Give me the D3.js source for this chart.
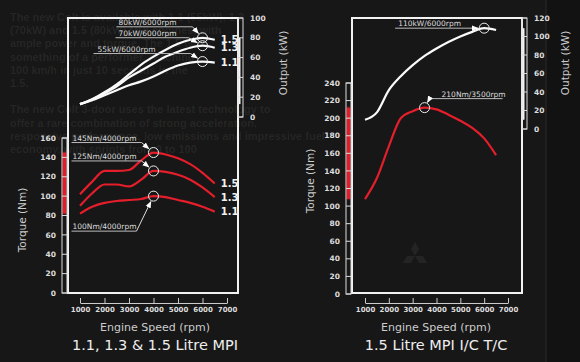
<!DOCTYPE html>
<html>
<head>
<meta charset="utf-8">
<script src="https://cdn.jsdelivr.net/npm/d3@7"></script>
<style>
  html, body { margin: 0; padding: 0; background: #161616; }
  svg { display: block; }
  text { font-family: "DejaVu Sans", sans-serif; }
</style>
</head>
<body>
<svg id="chart" width="580" height="362"></svg>
<script>
// engine speed grid shared by every curve
const rpm = [1000, 1500, 2000, 2500, 3000, 3500, 4000, 4500, 5000, 5500, 6000, 6500];
const rpmTicks = [1000, 2000, 3000, 4000, 5000, 6000, 7000];

// 1.1 / 1.3 / 1.5 MPI
const engines = ["1.5", "1.3", "1.1"];
const power15 = [13, 18, 25, 33, 43, 53, 61, 68, 74, 78, 80, 78];
const power13 = [13, 18, 24, 31, 40, 47, 54, 61, 66, 70, 72, 70];
const power11 = [13, 17, 22, 27, 32, 36, 41, 47, 52, 55, 56, 55];
const torque15 = [102, 115, 126, 126, 127, 137, 145, 143, 139, 133, 124, 113];
const torque13 = [90, 103, 112, 112, 110, 117, 126, 125, 122, 117, 109, 99];
const torque11 = [82, 89, 93, 95, 96, 97, 100, 99, 96, 93, 89, 84];
const mpiPowerNotes = ["80kW/6000rpm", "70kW/6000rpm", "55kW/6000rpm"];
const mpiTorqueNotes = ["145Nm/4000rpm", "125Nm/4000rpm", "100Nm/4000rpm"];
const mpiTorqueTicks = [0, 20, 40, 60, 80, 100, 120, 140, 160];
const mpiPowerTicks = [0, 20, 40, 60, 80, 100];

// 1.5 MPI I/C T/C
const tcPower = [10, 18, 42, 57, 69, 79, 87, 94, 100, 105, 109, 107];
const tcTorque = [108, 132, 168, 200, 208, 212, 210, 204, 197, 189, 177, 158];
const tcPowerNote = "110kW/6000rpm";
const tcTorqueNote = "210Nm/3500rpm";
const tcTorqueTicks = [0, 20, 40, 60, 80, 100, 120, 140, 160, 180, 200, 220, 240];
const tcPowerTicks = [0, 20, 40, 60, 80, 100, 120];

// faint brochure copy behind the charts
const ghostLines = [
  "The new Colt is available with 1.1 (55kW), 1.3",
  "(70kW) and 1.5 (80kW) MPI engines, with",
  "ample power and torque. The 1.5 is",
  "something of a performer, reaching",
  "100 km/h in just 10 seconds in the",
  "1.5.",
  "",
  "The new Colt 3-door uses the latest technology to",
  "offer a rare combination of strong acceleration,",
  "responsive performance, low emissions and impressive fuel",
  "economy, with sprints from 0 to 100"
];

const svg = d3.select("#chart");
svg.append("rect").attr("width", 580).attr("height", 362).attr("fill", "#171717");
svg.append("rect").attr("x", 547).attr("width", 33).attr("height", 362).attr("fill", "#121212");
svg.append("line").attr("x1", 546).attr("x2", 546).attr("y1", 0).attr("y2", 362)
  .attr("stroke", "#1f1f1f").attr("stroke-width", 2);

const defs = svg.append("defs");
defs.append("marker")
  .attr("id", "arrow")
  .attr("viewBox", "0 0 10 10")
  .attr("refX", 9).attr("refY", 5)
  .attr("markerWidth", 7).attr("markerHeight", 7)
  .attr("markerUnits", "userSpaceOnUse")
  .attr("orient", "auto")
  .append("path").attr("d", "M0,1L10,5L0,9Z").attr("fill", "#fff");
const glow = defs.append("filter").attr("id", "glow").attr("x", "-100%").attr("width", "300%");
glow.append("feGaussianBlur").attr("stdDeviation", 1.2).attr("result", "b");
const gm = glow.append("feMerge");
gm.append("feMergeNode").attr("in", "b");
gm.append("feMergeNode").attr("in", "SourceGraphic");

// ghost text
svg.append("g")
  .selectAll("text")
  .data(ghostLines)
  .join("text")
  .attr("x", 10)
  .attr("y", (d, i) => 21 + i * 13.2)
  .attr("fill", "#fff")
  .attr("fill-opacity", 0.07)
  .style("font-family", "'Liberation Sans', sans-serif")
  .style("font-weight", "bold")
  .style("font-size", "11px")
  .text(d => d);

// faint three-diamond logo
const logo = svg.append("g").attr("transform", "translate(415,256)").attr("fill", "#fff").attr("fill-opacity", 0.06);
[0, 120, 240].forEach(a => {
  logo.append("path").attr("d", "M0,0L4,-7L0,-14L-4,-7Z").attr("transform", `rotate(${a})`);
});

const red = "#e41e2b";
const lineGen = (x, y) => d3.line().x((d, i) => x(rpm[i])).y(d => y(d)).curve(d3.curveMonotoneX);

function drawNote(g, p, text, lay) {
  const uy = p.y + lay.uy, xa = p.x + lay.ux0, xb = p.x + lay.ux1;
  const r = 5;
  g.append("line").attr("x1", xa).attr("x2", xb).attr("y1", uy).attr("y2", uy)
    .attr("stroke", "#bbb").attr("stroke-width", 1);
  g.append("text").attr("x", Math.min(xa, xb) + lay.tx).attr("y", uy - 2)
    .attr("fill", "#ddd").style("font-size", "7.5px").text(text);
  const sx = Math.abs(xa - p.x) < Math.abs(xb - p.x) ? xa : xb;
  const dx = p.x - sx, dy = p.y - uy, len = Math.hypot(dx, dy);
  g.append("line").attr("x1", sx).attr("y1", uy)
    .attr("x2", p.x - dx / len * (r + 1)).attr("y2", p.y - dy / len * (r + 1))
    .attr("stroke", "#ddd").attr("stroke-width", 1).attr("marker-end", "url(#arrow)");
  g.append("circle").attr("cx", p.x).attr("cy", p.y).attr("r", r)
    .attr("fill", "none").attr("stroke", "#eee").attr("stroke-width", 1);
}

function drawPanel(cfg) {
  const g = svg.append("g");
  const [bx0, by0, bx1, by1] = cfg.box;
  const x = d3.scaleLinear().domain([1000, 7000]).range(cfg.xRange);
  const yT = d3.scaleLinear().domain([0, d3.max(cfg.torqueTicks)]).range(cfg.torqueRange);
  const yP = d3.scaleLinear().domain([0, d3.max(cfg.powerTicks)]).range(cfg.powerRange);

  // plot frame
  g.append("rect").attr("x", bx0).attr("y", by0).attr("width", bx1 - bx0).attr("height", by1 - by0)
    .attr("fill", "none").attr("stroke", "#f2f2f2").attr("stroke-width", 2);

  // torque scale bar
  const tb = bx0 - 6;
  const tExt = d3.extent(cfg.torque.flat());
  g.append("rect").attr("x", tb + 1).attr("width", 3)
    .attr("y", yT(tExt[1])).attr("height", yT(tExt[0]) - yT(tExt[1]))
    .attr("fill", red).attr("filter", "url(#glow)");
  g.append("rect").attr("x", tb).attr("width", 5)
    .attr("y", yT(d3.max(cfg.torqueTicks))).attr("height", yT(0) - yT(d3.max(cfg.torqueTicks)))
    .attr("fill", "none").attr("stroke", "#ddd").attr("stroke-width", 1);
  g.selectAll(null).data(cfg.torqueTicks).join("line")
    .attr("x1", tb).attr("x2", tb + 5).attr("y1", d => yT(d)).attr("y2", d => yT(d))
    .attr("stroke", "#ddd");
  g.selectAll(null).data(cfg.torqueTicks).join("text")
    .attr("x", tb - 6).attr("y", d => yT(d)).attr("dy", "0.35em")
    .attr("text-anchor", "end").attr("fill", "#ddd")
    .style("font-size", "7.5px").style("font-weight", "bold").text(d => d);
  g.append("text")
    .attr("transform", `translate(${cfg.torqueLabel[0]},${cfg.torqueLabel[1]}) rotate(-90)`)
    .attr("text-anchor", "middle").attr("dy", "0.35em").attr("fill", "#ccc")
    .style("font-size", "10.5px").text("Torque (Nm)");

  // output scale bar
  const pb = bx1;
  const pExt = d3.extent(cfg.power.flat());
  g.append("rect").attr("x", pb + 0.5).attr("width", 2)
    .attr("y", yP(pExt[1])).attr("height", yP(pExt[0]) - yP(pExt[1]))
    .attr("fill", "#f4f4f4");
  g.append("rect").attr("x", pb).attr("width", 5)
    .attr("y", yP(d3.max(cfg.powerTicks))).attr("height", yP(0) - yP(d3.max(cfg.powerTicks)))
    .attr("fill", "none").attr("stroke", "#ddd").attr("stroke-width", 1);
  g.selectAll(null).data(cfg.powerTicks).join("line")
    .attr("x1", pb).attr("x2", pb + 5).attr("y1", d => yP(d)).attr("y2", d => yP(d))
    .attr("stroke", "#ddd");
  g.selectAll(null).data(cfg.powerTicks).join("text")
    .attr("x", pb + 12).attr("y", d => yP(d)).attr("dy", "0.35em")
    .attr("fill", "#ddd").style("font-size", "7.5px").style("font-weight", "bold").text(d => d);
  g.append("text")
    .attr("transform", `translate(${cfg.powerLabel[0]},${cfg.powerLabel[1]}) rotate(-90)`)
    .attr("text-anchor", "middle").attr("dy", "0.35em").attr("fill", "#ccc")
    .style("font-size", "10.5px").text("Output (kW)");

  // engine speed axis
  const ax = g.append("g").attr("transform", `translate(0,${cfg.axisY})`)
    .call(d3.axisBottom(x).tickValues(rpmTicks).tickFormat(d3.format("d"))
      .tickSizeInner(-5).tickSizeOuter(0).tickPadding(4));
  ax.attr("font-family", null).attr("font-size", null);
  ax.selectAll("path, line").attr("stroke", "#ccc");
  ax.selectAll("text").attr("fill", "#ddd").style("font-size", "7px").style("font-weight", "bold");
  g.append("text").attr("x", cfg.titleX).attr("y", cfg.axisY + 28)
    .attr("text-anchor", "middle").attr("fill", "#ccc").style("font-size", "11px")
    .text("Engine Speed (rpm)");
  g.append("text").attr("x", cfg.titleX).attr("y", cfg.axisY + 47)
    .attr("text-anchor", "middle").attr("fill", "#eee").style("font-size", "14.5px")
    .text(cfg.title);

  // curves
  cfg.power.forEach(s => {
    g.append("path").datum(s).attr("d", lineGen(x, yP))
      .attr("fill", "none").attr("stroke", "#fafafa").attr("stroke-width", 2.2);
  });
  cfg.torque.forEach(s => {
    g.append("path").datum(s).attr("d", lineGen(x, yT))
      .attr("fill", "none").attr("stroke", red).attr("stroke-width", 2.2);
  });

  // end labels
  if (cfg.endLabels) {
    const last = rpm.length - 1;
    [[cfg.power, yP], [cfg.torque, yT]].forEach(([series, y]) => {
      series.forEach((s, i) => {
        g.append("text").attr("x", x(rpm[last]) + 6).attr("y", y(s[last])).attr("dy", "0.35em")
          .attr("fill", "#f2f2f2").style("font-size", "10px").style("font-weight", "bold")
          .text(cfg.endLabels[i]);
      });
    });
  }

  // peak call-outs
  cfg.notes.forEach(n => {
    const y = n.kind === "power" ? yP : yT;
    const idx = rpm.indexOf(n.rpm);
    drawNote(g, { x: x(n.rpm), y: y(n.series[idx]) }, n.text, n.lay);
  });
}

drawPanel({
  box: [68, 18, 238, 293],
  xRange: [80, 227],
  torqueRange: [293, 138],
  powerRange: [117, 18],
  torqueTicks: mpiTorqueTicks,
  powerTicks: mpiPowerTicks,
  power: [power15, power13, power11],
  torque: [torque15, torque13, torque11],
  endLabels: engines,
  torqueLabel: [22, 220],
  powerLabel: [283, 63],
  axisY: 303,
  titleX: 155,
  title: "1.1, 1.3 & 1.5 Litre MPI",
  notes: [
    { kind: "power", rpm: 6000, series: power15, text: mpiPowerNotes[0], lay: { ux0: -86, ux1: -10, uy: -11, tx: 2 } },
    { kind: "power", rpm: 6000, series: power13, text: mpiPowerNotes[1], lay: { ux0: -87, ux1: -14, uy: -8, tx: 3 } },
    { kind: "power", rpm: 6000, series: power11, text: mpiPowerNotes[2], lay: { ux0: -109, ux1: -12, uy: -8, tx: 4 } },
    { kind: "torque", rpm: 4000, series: torque15, text: mpiTorqueNotes[0], lay: { ux0: -82, ux1: -12, uy: -10, tx: 1 } },
    { kind: "torque", rpm: 4000, series: torque13, text: mpiTorqueNotes[1], lay: { ux0: -82, ux1: -12, uy: -10, tx: 1 } },
    { kind: "torque", rpm: 4000, series: torque11, text: mpiTorqueNotes[2], lay: { ux0: -82, ux1: -17, uy: 35, tx: 1 } }
  ]
});

drawPanel({
  box: [352, 18, 522, 293],
  xRange: [365, 508],
  torqueRange: [294, 83],
  powerRange: [129, 18],
  torqueTicks: tcTorqueTicks,
  powerTicks: tcPowerTicks,
  power: [tcPower],
  torque: [tcTorque],
  endLabels: null,
  torqueLabel: [310, 181],
  powerLabel: [565, 63],
  axisY: 303,
  titleX: 436,
  title: "1.5 Litre MPI I/C T/C",
  notes: [
    { kind: "power", rpm: 6000, series: tcPower, text: tcPowerNote, lay: { ux0: -89, ux1: -14, uy: 0, tx: 3 } },
    { kind: "torque", rpm: 3500, series: tcTorque, text: tcTorqueNote, lay: { ux0: 5, ux1: 78, uy: -9, tx: 12 } }
  ]
});
</script>
</body>
</html>
